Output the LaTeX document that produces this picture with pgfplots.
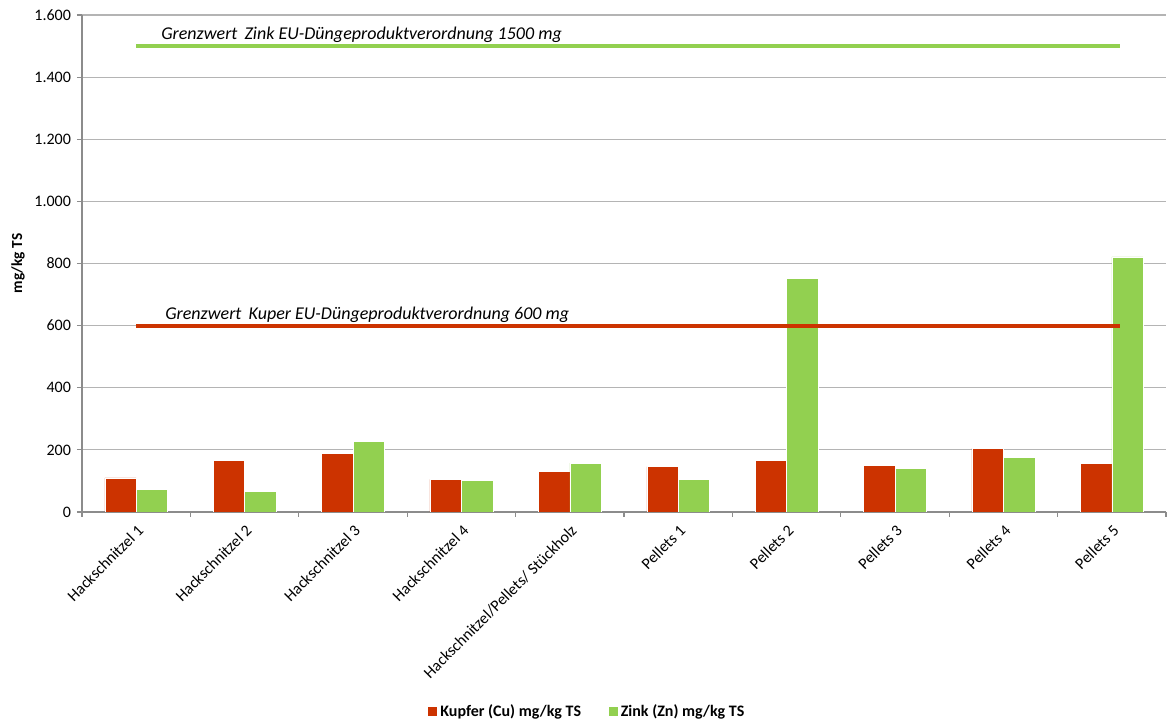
\documentclass[border=0pt]{standalone}
\usepackage{pgfplots}
\pgfplotsset{compat=1.18}
\usepackage{fontspec}
\setmainfont{Carlito}

\definecolor{cu}{HTML}{CC3300}
\definecolor{zn}{HTML}{92D050}
\definecolor{gridc}{HTML}{B4B4B4}
\definecolor{axc}{HTML}{8C8C8C}

% Kupfer- und Zinkgehalte in mg/kg TS, je Probe
\pgfplotstableread{
idx cu  zn
0   110 73
1   166 66
2   189 228
3   105 101
4   130 157
5   146 105
6   166 752
7   151 141
8   205 177
9   157 821
}\metals

\begin{document}
\begin{tikzpicture}
\path[use as bounding box] (-61.5pt,-159pt) rectangle (814.5pt,384pt);
\begin{axis}[
  scale only axis,
  width=813pt, height=372.75pt,
  xmin=-0.5, xmax=9.5,
  ymin=0, ymax=1600,
  axis x line=bottom, axis y line=left,
  axis line style={axc, line width=0.8pt, -},
  tick align=outside,
  major tick length=3.75pt,
  tick style={axc, line width=0.8pt},
  ytick={0,200,...,1600},
  ymajorgrids,
  grid style={gridc, line width=0.8pt},
  /pgf/number format/assume math mode=true,
  /pgf/number format/.cd, 1000 sep={.}, /pgfplots/.cd,
  yticklabel style={font=\fontsize{12}{14}\selectfont, xshift=-1pt},
  xtick={-0.5,0.5,...,9.5},
  x tick label as interval,
  xticklabels={Hackschnitzel 1,Hackschnitzel 2,Hackschnitzel 3,Hackschnitzel 4,Hackschnitzel/Pellets/ Stückholz,Pellets 1,Pellets 2,Pellets 3,Pellets 4,Pellets 5},
  xticklabel style={font=\fontsize{12}{14}\selectfont, rotate=45, anchor=east, xshift=0pt, yshift=-8pt},
  ylabel={\textbf{mg/kg TS}},
  ylabel style={font=\fontsize{11.5}{13}\selectfont, at={(axis description cs:-0.059,0.5)}, anchor=center},
  legend columns=2,
  legend style={draw=none, at={(axis description cs:0.466,-0.402)}, anchor=center,
    font=\fontsize{12}{14}\selectfont\bfseries,
    /tikz/every even column/.append style={column sep=18pt}},
  legend image code/.code={\fill[#1] (0pt,-3.4pt) rectangle (7.5pt,4.1pt);},
]
\addplot[ybar, bar width=0.29, bar shift=-0.145, fill=cu, draw=white, line width=0.3pt] table[x=idx, y=cu] {\metals};
\addlegendentry{Kupfer (Cu) mg/kg TS}
\addplot[ybar, bar width=0.29, bar shift=0.145, fill=zn, draw=white, line width=0.3pt] table[x=idx, y=zn] {\metals};
\addlegendentry{Zink (Zn) mg/kg TS}

% Grenzwerte nach EU-Düngeprodukteverordnung
\addplot[forget plot, zn, line width=3pt] coordinates {(0,1500) (9.08,1500)};
\addplot[forget plot, cu, line width=3pt] coordinates {(0,600) (9.08,600)};
\node[anchor=base west, font=\fontsize{13.5}{16}\selectfont\itshape, inner sep=0pt]
  at (axis cs:0.229,1520) {Grenzwert\, Zink EU-Düngeproduktverordnung 1500 mg};
\node[anchor=base west, font=\fontsize{13.5}{16}\selectfont\itshape, inner sep=0pt]
  at (axis cs:0.266,620) {Grenzwert\, Kuper EU-Düngeproduktverordnung 600 mg};
\end{axis}
\end{tikzpicture}
\end{document}
